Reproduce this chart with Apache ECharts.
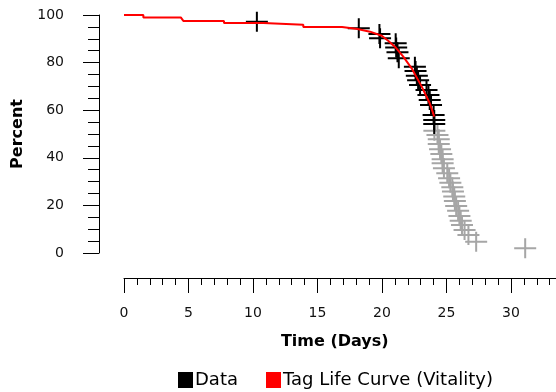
<!DOCTYPE html>
<html><head><meta charset="utf-8">
<script src="https://cdn.jsdelivr.net/npm/echarts@6/dist/echarts.min.js"></script>
<style>html,body{margin:0;padding:0;background:#fff}#c{width:556px;height:392px}</style>
</head><body><div id="c"></div>
<script>
// Observed tag data (black crosses)
const dataTimes    = [10.3, 18.2, 19.8, 19.85, 21.06, 21.1, 21.2, 21.3, 22.55, 22.6, 22.7, 22.8, 22.95, 23.45, 23.6, 23.7, 23.8, 24.0, 24.05, 24.05];
const dataPercents = [97.2, 94.4, 92.0, 90.2, 88.1, 86.3, 84.3, 81.8, 78.3, 76.5, 74.5, 72.6, 70.6, 68.5, 66.4, 64.3, 62.2, 58.0, 55.9, 54.2];
// Data beyond the fitted range (grey crosses)
const greyTimes    = [24.06, 24.3, 24.4, 24.4, 24.5, 24.6, 24.7, 24.7, 24.8, 25.06, 25.2, 25.3, 25.45, 25.5, 25.6, 25.65, 25.75, 25.9, 26.0, 26.1, 26.2, 26.4, 26.7, 27.3, 31.1];
const greyPercents = [51.4, 49.6, 47.8, 45.8, 43.6, 41.6, 39.4, 37.7, 35.6, 33.5, 31.4, 29.5, 27.6, 25.8, 23.7, 21.8, 19.7, 17.8, 15.5, 13.6, 11.8, 9.7, 7.6, 4.7, 2.0];
// Tag life curve (vitality model)
const curveTimes    = [0, 1.5, 1.5, 4.4, 4.6, 7.75, 7.75, 10.8, 10.8, 13.9, 13.9, 16.9, 16.9, 18.1, 19.07, 19.98, 20.5, 21.0, 21.65, 22.3, 23.08, 23.7, 24.05];
const curvePercents = [100, 100, 99.0, 99.0, 97.5, 97.5, 96.6, 96.6, 95.9, 95.9, 95.0, 95.0, 94.4, 94.1, 93.0, 91.3, 89.1, 86.7, 82.5, 77.6, 69.9, 62.9, 57.3];

const xMin = 0, xMax = 35, xStep = 5;
const yMin = 0, yMax = 100, yStep = 20;
const seriesNames = ['Data', 'Tag Life Curve (Vitality)'];

const zip = (a, b) => a.map((v, i) => [v, b[i]]);
const cross = 'path://M10,0H12V9H22V11H12V20H10V11H0V9H10Z';
const FONT = 'DejaVu Sans';

const chart = echarts.init(document.getElementById('c'), null, {renderer: 'canvas'});
chart.setOption({
  animation: false,
  backgroundColor: '#fff',
  grid: {left: 124, top: 15, width: 451.5, height: 238, containLabel: false, outerBoundsMode: 'none'},
  xAxis: {
    type: 'value', min: xMin, max: xMax, interval: xStep, offset: 25,
    name: 'Time (Days)', nameLocation: 'middle', nameGap: 56,
    nameTextStyle: {fontFamily: FONT, fontWeight: 'bold', fontSize: 16, color: '#000', padding: [0, 30, 0, 0]},
    axisLine: {show: true, onZero: false, lineStyle: {color: '#000', width: 1}},
    axisTick: {show: true, inside: false, length: 15, lineStyle: {color: '#000', width: 1}},
    minorTick: {show: true, splitNumber: 5, length: 7, lineStyle: {color: '#000', width: 1}},
    axisLabel: {fontFamily: FONT, fontSize: 14, color: '#111', margin: 28},
    splitLine: {show: false}
  },
  yAxis: {
    type: 'value', min: yMin, max: yMax, interval: yStep, offset: 25,
    name: 'Percent', nameLocation: 'middle', nameGap: 73, nameRotate: 90,
    nameTextStyle: {fontFamily: FONT, fontWeight: 'bold', fontSize: 16, color: '#000'},
    axisLine: {show: true, onZero: false, lineStyle: {color: '#000', width: 1}},
    axisTick: {show: true, inside: false, length: 16, lineStyle: {color: '#000', width: 1}},
    minorTick: {show: true, splitNumber: 4, length: 11, lineStyle: {color: '#000', width: 1}},
    axisLabel: {fontFamily: FONT, fontSize: 14, color: '#111', margin: 35},
    splitLine: {show: false}
  },
  legend: {
    left: 173, top: 366, itemWidth: 15, itemHeight: 16, itemGap: 28,
    textStyle: {fontFamily: FONT, fontSize: 18, color: '#000', padding: [0, 0, 0, -3]},
    data: [
      {name: seriesNames[0], icon: 'rect', itemStyle: {color: '#000', opacity: 1}},
      {name: seriesNames[1], icon: 'rect', itemStyle: {color: '#ff0000', opacity: 1}}
    ],
    selectedMode: false
  },
  series: [
    {
      name: 'Excluded', type: 'scatter', data: zip(greyTimes, greyPercents),
      symbol: cross, symbolSize: [22, 20], itemStyle: {color: '#a6a6a6', opacity: 1}, z: 2
    },
    {
      name: seriesNames[0], type: 'scatter', data: zip(dataTimes, dataPercents),
      symbol: cross, symbolSize: [22, 20], itemStyle: {color: '#000', opacity: 1}, z: 3
    },
    {
      name: seriesNames[1], type: 'line', data: zip(curveTimes, curvePercents),
      showSymbol: false, symbol: 'none', lineStyle: {color: '#ff0000', width: 2},
      itemStyle: {color: '#ff0000'}, z: 4
    }
  ]
});
</script></body></html>
